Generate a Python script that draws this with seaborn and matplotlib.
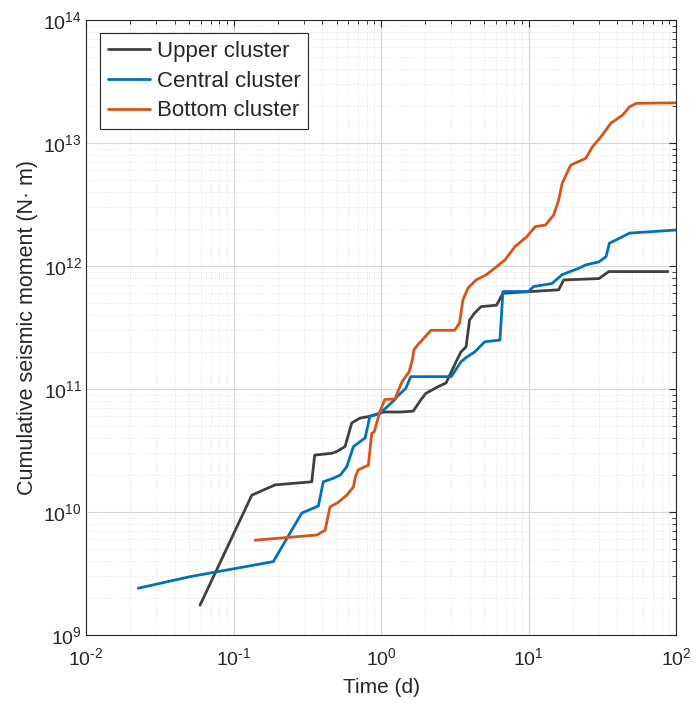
import numpy as np
import pandas as pd
import matplotlib
matplotlib.use("Agg")
import matplotlib.pyplot as plt
import seaborn as sns
from matplotlib.ticker import LogLocator, NullFormatter, FuncFormatter

# ---- data ----
upper_t = [0.0593, 0.133, 0.191, 0.339, 0.355, 0.464, 0.50, 0.57, 0.633, 0.72, 0.84, 1.04, 1.35,
           1.65, 1.86, 2.01, 2.42, 2.76, 2.89, 3.22, 3.48, 3.77, 3.98, 4.31, 4.76, 6.07, 6.7,
           16.0, 17.3, 30.0, 35.0, 88.0]
upper_m = [1.75e9, 1.37e10, 1.66e10, 1.76e10, 2.9e10, 3.0e10, 3.1e10, 3.4e10, 5.3e10, 5.8e10, 6.0e10, 6.5e10, 6.5e10,
           6.6e10, 8.15e10, 9.2e10, 1.04e11, 1.12e11, 1.26e11, 1.66e11, 2.0e11, 2.2e11, 3.64e11, 4.15e11, 4.67e11, 4.8e11, 6.0e11,
           6.4e11, 7.7e11, 7.9e11, 9.0e11, 9.0e11]

central_t = [0.0226, 0.0507, 0.186, 0.29, 0.376, 0.406, 0.475, 0.53, 0.585, 0.65, 0.78, 0.84, 0.98, 1.24,
             1.28, 1.47, 1.59, 2.99, 3.48, 3.77, 4.31, 5.05, 6.4, 6.7, 10.0, 10.8, 14.4, 16.9, 22.0,
             24.4, 30.0, 33.5, 35.3, 41.3, 48.4, 100.0]
central_m = [2.4e9, 2.98e9, 3.95e9, 9.8e9, 1.12e10, 1.76e10, 1.88e10, 2.0e10, 2.33e10, 3.4e10, 4.0e10, 6.0e10, 6.3e10, 8.2e10,
             8.65e10, 1.01e11, 1.26e11, 1.26e11, 1.66e11, 1.8e11, 2.0e11, 2.42e11, 2.5e11, 6.2e11, 6.2e11, 6.8e11, 7.2e11, 8.5e11, 9.6e11,
             1.02e12, 1.08e12, 1.19e12, 1.53e12, 1.68e12, 1.85e12, 1.96e12]

bottom_t = [0.14, 0.367, 0.417, 0.451, 0.513, 0.585, 0.65, 0.67, 0.70, 0.82, 0.865, 0.9, 0.98, 1.06, 1.24,
            1.39, 1.55, 1.63, 1.67, 1.77, 2.18, 3.15, 3.4, 3.59, 3.88, 4.41, 5.18, 5.9, 6.92, 8.1, 9.73,
            11.1, 13.0, 14.8, 16.0, 16.9, 19.3, 24.4, 27.1, 30.9, 36.2, 43.5, 48.4, 53.8, 100.0]
bottom_m = [5.9e9, 6.5e9, 7.1e9, 1.1e10, 1.2e10, 1.37e10, 1.6e10, 1.94e10, 2.2e10, 2.4e10, 4.36e10, 4.5e10, 6.5e10, 8.2e10, 8.3e10,
            1.15e11, 1.38e11, 1.72e11, 2.08e11, 2.28e11, 3.0e11, 3.0e11, 3.42e11, 5.3e11, 6.6e11, 7.7e11, 8.5e11, 9.6e11, 1.12e12, 1.44e12, 1.73e12,
            2.09e12, 2.15e12, 2.6e12, 3.44e12, 4.7e12, 6.6e12, 7.5e12, 9.3e12, 1.12e13, 1.45e13, 1.69e13, 1.97e13, 2.1e13, 2.12e13]

series_names = ["Upper cluster", "Central cluster", "Bottom cluster"]
colors = ["#404040", "#0072BD", "#D95319"]

frames = []
for name, t, m in zip(series_names, [upper_t, central_t, bottom_t], [upper_m, central_m, bottom_m]):
    frames.append(pd.DataFrame({"t": t, "m": m, "cluster": name}))
df = pd.concat(frames, ignore_index=True)

sns.set_style("white")
plt.rcParams["font.family"] = ["Liberation Sans", "DejaVu Sans"]
plt.rcParams["mathtext.fontset"] = "custom"
plt.rcParams["mathtext.rm"] = "Liberation Sans"
plt.rcParams["mathtext.default"] = "regular"

fig = plt.figure(figsize=(6.97, 7.13), dpi=100)
ax = fig.add_axes([0.1234, 0.1094, 0.8466, 0.8626])

sns.lineplot(data=df, x="t", y="m", hue="cluster", hue_order=series_names,
             palette=colors, sort=False, estimator=None, linewidth=2.0, ax=ax)

ax.set_xscale("log")
ax.set_yscale("log")
ax.set_xlim(1e-2, 1e2)
ax.set_ylim(1e9, 1e14)

def pow_fmt(v, pos):
    e = int(round(np.log10(v)))
    return "$10^{%s}$" % (str(e).replace("-", "\\text{-}"))

ax.xaxis.set_major_locator(LogLocator(base=10, numticks=10))
ax.yaxis.set_major_locator(LogLocator(base=10, numticks=10))
ax.xaxis.set_major_formatter(FuncFormatter(pow_fmt))
ax.yaxis.set_major_formatter(FuncFormatter(pow_fmt))
ax.xaxis.set_minor_locator(LogLocator(base=10, subs=np.arange(2, 10), numticks=20))
ax.yaxis.set_minor_locator(LogLocator(base=10, subs=np.arange(2, 10), numticks=20))
ax.xaxis.set_minor_formatter(NullFormatter())
ax.yaxis.set_minor_formatter(NullFormatter())

ax.grid(True, which="major", color="#d6d6d6", linewidth=0.8, linestyle="-")
ax.grid(True, which="minor", color="#dedede", linewidth=0.6, linestyle=":")
ax.set_axisbelow(True)

ax.tick_params(which="both", direction="in", top=True, right=True, colors="#262626", labelcolor="#262626")
ax.tick_params(which="major", length=5, width=0.8, labelsize=14)
ax.tick_params(axis="x", which="major", pad=9)
ax.tick_params(axis="y", which="major", pad=3)
ax.tick_params(which="minor", length=3, width=0.6)
for s in ax.spines.values():
    s.set_color("#262626")
    s.set_linewidth(0.8)

ax.set_xlabel("Time (d)", fontsize=15, color="#262626", labelpad=6)
ax.set_ylabel("Cumulative seismic moment (N\u00b7 m)", fontsize=15.5, color="#262626", labelpad=4)

leg = ax.legend(loc="upper left", bbox_to_anchor=(0.024, 0.979), fontsize=16, frameon=True,
                fancybox=False, edgecolor="#262626", framealpha=1, handlelength=1.9,
                borderpad=0.35, labelspacing=0.4, handletextpad=0.3, borderaxespad=0.0)
leg.get_frame().set_linewidth(0.8)
for line in leg.get_lines():
    line.set_linewidth(2.0)

fig.savefig("out.png", dpi=100)
